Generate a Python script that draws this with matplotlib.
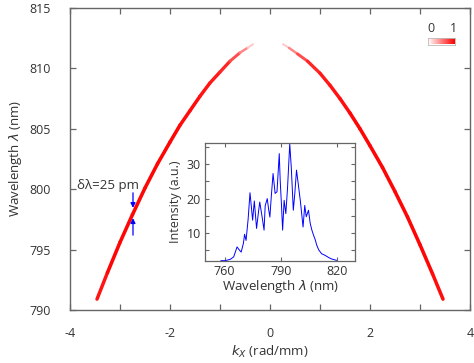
import matplotlib
matplotlib.use('Agg')
import matplotlib.pyplot as plt
import numpy as np
from matplotlib.collections import LineCollection
from matplotlib.colors import LinearSegmentedColormap
from matplotlib.ticker import FixedLocator, FuncFormatter

plt.rcParams['font.family'] = ['Open Sans', 'DejaVu Sans']
plt.rcParams['mathtext.fontset'] = 'dejavusans'

# dispersion branch (kx in rad/mm, wavelength in nm)
kx_left = [-3.46, -3.25, -3.0, -2.75, -2.5, -2.25, -2.0, -1.8, -1.6, -1.4, -1.2, -1.0, -0.8, -0.6, -0.45, -0.34]
wl_left = [790.9, 793.1, 795.6, 797.9, 800.1, 802.1, 803.9, 805.3, 806.5, 807.7, 808.8, 809.7, 810.6, 811.3, 811.7, 812.0]
int_left = [0.9, 0.95, 1.0, 0.95, 1.0, 0.95, 1.0, 0.95, 0.95, 0.95, 0.9, 0.9, 0.8, 0.6, 0.35, 0.1]

kx_right = [0.26, 0.38, 0.55, 0.75, 1.0, 1.2, 1.4, 1.6, 1.8, 2.0, 2.25, 2.5, 2.75, 3.0, 3.25, 3.46]
wl_right = [812.0, 811.7, 811.2, 810.6, 809.6, 808.6, 807.5, 806.3, 805.0, 803.6, 801.8, 799.8, 797.7, 795.4, 793.0, 790.9]
int_right = [0.1, 0.35, 0.6, 0.8, 0.9, 0.9, 0.95, 0.95, 1.0, 0.95, 1.0, 0.95, 1.0, 0.95, 1.0, 0.9]

# inset spectrum
spec_wl = [758.0, 760.3, 763.0, 764.8, 766.6, 767.8, 768.8, 770.0, 770.6, 771.4, 772.5, 773.5, 774.9, 775.8, 777.0,
           778.0, 778.7, 780.0, 781.0, 781.6, 782.7, 783.4, 784.1, 784.8, 785.8, 786.9, 787.9, 789.1, 789.6,
           790.3, 790.9, 791.7, 792.6, 793.5, 794.7, 795.5, 796.6, 797.4, 798.3, 799.2, 800.4, 801.8, 802.7,
           803.5, 804.7, 805.6, 806.5, 807.4, 808.3, 809.1, 810.2, 811.7, 813.0, 814.3, 815.5, 817.0, 819.6]
spec_int = [1.9, 1.9, 2.3, 3.0, 5.9, 5.0, 4.4, 7.0, 9.6, 7.8, 14.0, 21.7, 13.7, 19.3, 11.3,
            16.0, 19.0, 14.5, 10.8, 17.9, 20.0, 17.0, 14.6, 20.2, 27.3, 21.5, 22.0, 33.1, 25.3,
            18.0, 10.8, 19.5, 15.6, 22.9, 36.0, 29.2, 16.6, 21.5, 28.3, 24.4, 19.1, 11.7, 18.0,
            14.7, 16.6, 12.8, 10.8, 9.3, 8.0, 6.4, 5.0, 3.9, 3.6, 3.2, 2.8, 2.4, 2.0]

spine_col = '#666666'
text_col = '#333333'
cmap = LinearSegmentedColormap.from_list('wr', ['#ffffff', '#ff0000'])

fig = plt.figure(figsize=(4.74, 3.63), dpi=100)
ax = fig.add_axes([70 / 474, 1 - 310 / 363, 400 / 474, 302 / 363])

for kx, wl, it in [(kx_left, wl_left, int_left), (kx_right, wl_right, int_right)]:
    pts = np.column_stack([kx, wl]).reshape(-1, 1, 2)
    segs = np.concatenate([pts[:-1], pts[1:]], axis=1)
    vals = 0.5 * (np.array(it[:-1]) + np.array(it[1:]))
    lc = LineCollection(segs, cmap=cmap, norm=plt.Normalize(0, 1), linewidths=1.0 + 1.6 * vals,
                        capstyle='round', joinstyle='round')
    lc.set_array(vals)
    ax.add_collection(lc)

ax.set_xlim(-4, 4)
ax.set_ylim(790, 815)
ax.xaxis.set_major_locator(FixedLocator(np.arange(-4, 5, 1)))
ax.xaxis.set_major_formatter(FuncFormatter(lambda v, p: '%d' % v if int(round(v)) % 2 == 0 else ''))
ax.yaxis.set_major_locator(FixedLocator(np.arange(790, 816, 5)))
ax.tick_params(direction='in', length=4, width=0.9, color=spine_col, labelcolor=text_col,
               labelsize=9, top=True, right=True, pad=12)
ax.tick_params(axis='y', pad=14)
for s in ax.spines.values():
    s.set_color(spine_col)
    s.set_linewidth(1.0)
ax.set_xlabel(r'$k_X$ (rad/mm)', fontsize=9.5, color=text_col, labelpad=3)
ax.set_ylabel(r'Wavelength $\lambda$ (nm)', fontsize=9.5, color=text_col, labelpad=4)

# linewidth marker
ax.annotate('', xy=(-2.74, 798.45), xytext=(-2.74, 799.7),
            arrowprops=dict(arrowstyle='-|>', color='#0000ff', lw=0.9, mutation_scale=7,
                            shrinkA=0, shrinkB=0))
ax.annotate('', xy=(-2.74, 797.6), xytext=(-2.74, 796.2),
            arrowprops=dict(arrowstyle='-|>', color='#0000ff', lw=0.9, mutation_scale=7,
                            shrinkA=0, shrinkB=0))
ax.text(-3.86, 800.3, 'δλ=25 pm', fontsize=9.5, color=text_col, va='center')

# colour bar
cax = fig.add_axes([428 / 474, 1 - 44.5 / 363, 27 / 474, 7 / 363])
cax.imshow(np.linspace(0, 1, 64).reshape(1, -1), cmap=cmap, aspect='auto', extent=[0, 1, 0, 1])
cax.set_xticks([])
cax.set_yticks([])
for s in cax.spines.values():
    s.set_color('#bbbbbb')
    s.set_linewidth(0.6)
fig.text(431 / 474, 1 - 29 / 363, '0', fontsize=9, color=text_col, ha='center', va='center')
fig.text(453 / 474, 1 - 29 / 363, '1', fontsize=9, color=text_col, ha='center', va='center')

# inset spectrum
ins = fig.add_axes([205 / 474, 1 - 261 / 363, 150 / 474, 118 / 363])
ins.plot(spec_wl, spec_int, color='#0000ff', lw=0.7)
ins.set_xlim(749.5, 829.5)
ins.set_ylim(1.8, 36.2)
ins.xaxis.set_major_locator(FixedLocator([760, 790, 820]))
ins.yaxis.set_major_locator(FixedLocator(np.arange(5, 36, 5)))
ins.yaxis.set_major_formatter(FuncFormatter(lambda v, p: '%d' % v if int(round(v)) % 10 == 0 else ''))
ins.tick_params(direction='in', length=3, width=0.8, color=spine_col, labelcolor=text_col,
                labelsize=9, top=True, right=True, pad=3)
for s in ins.spines.values():
    s.set_color(spine_col)
    s.set_linewidth(0.9)
ins.set_xlabel(r'Wavelength $\lambda$ (nm)', fontsize=9.5, color=text_col, labelpad=0)
ins.set_ylabel('Intensity (a.u.)', fontsize=9, color=text_col, labelpad=3)

fig.savefig('out.png', dpi=100)
